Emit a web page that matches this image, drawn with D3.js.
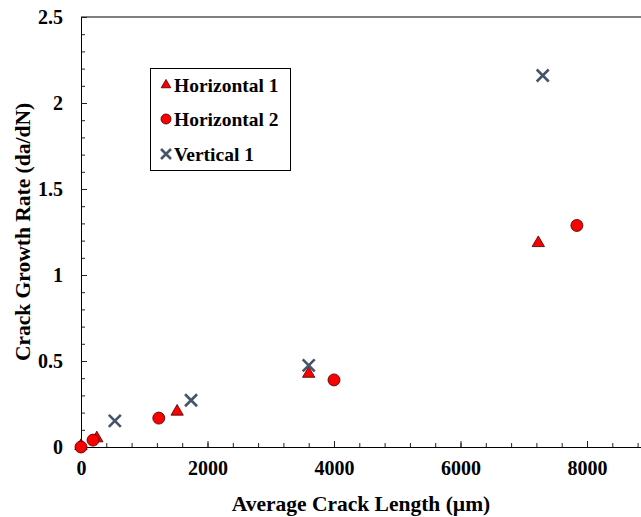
<!DOCTYPE html>
<html>
<head>
<meta charset="utf-8">
<script src="https://cdn.jsdelivr.net/npm/d3@7"></script>
<style>
  html, body { margin: 0; padding: 0; background: #fff; }
  svg text { font-family: "Liberation Serif", "Times New Roman", serif; font-weight: bold; }
</style>
</head>
<body>
<svg id="chart" width="641" height="517"></svg>
<script>
// Crack growth measurements: average crack length (µm) vs. rate (da/dN)
const horizontal1X = [0, 250, 1520, 3600, 7230];
const horizontal1Y = [0, 0.045, 0.2, 0.42, 1.18];
const horizontal2X = [0, 190, 1230, 4000, 7840];
const horizontal2Y = [0, 0.04, 0.168, 0.39, 1.288];
const vertical1X = [535, 1740, 3600, 7300];
const vertical1Y = [0.152, 0.272, 0.475, 2.16];

const xTicks = [0, 2000, 4000, 6000, 8000];
const yTicks = [0, 0.5, 1, 1.5, 2, 2.5];
const seriesNames = ["Horizontal 1", "Horizontal 2", "Vertical 1"];

const svg = d3.select("#chart");
const margin = { left: 81, top: 17, bottom: 447 };
const plotRight = 81 + 632.5; // x axis runs to 10000, past the right edge of the frame

const x = d3.scaleLinear().domain([0, 10000]).range([margin.left, plotRight]);
const y = d3.scaleLinear().domain([0, 2.5]).range([margin.bottom, margin.top]);

const red = "#ff0000";
const slate = "#44546a";
const labelFont = '"Liberation Serif", "Times New Roman", serif';

// frame: top border line
svg.append("line")
  .attr("x1", x(0)).attr("x2", plotRight)
  .attr("y1", y(2.5)).attr("y2", y(2.5))
  .attr("stroke", "#000").attr("stroke-width", 1);

// x axis: minor + major ticks pointing inward
svg.append("g").attr("transform", `translate(0,${margin.bottom})`)
  .call(d3.axisTop(x).tickValues(d3.range(0, 10001, 400)).tickSize(4).tickFormat(""))
  .call(g => g.select(".domain").remove());
svg.append("g").attr("transform", `translate(0,${margin.bottom})`)
  .call(d3.axisTop(x).tickValues(d3.range(0, 10001, 2000)).tickSize(6).tickSizeOuter(0).tickFormat(""));
svg.append("g").attr("transform", `translate(0,${margin.bottom})`)
  .call(d3.axisBottom(x).tickValues(xTicks).tickSize(0).tickSizeOuter(0).tickPadding(14)
    .tickFormat(d3.format("d")))
  .call(g => g.select(".domain").remove())
  .call(g => g.selectAll("text").attr("font-size", 20).attr("fill", "#000")
    .style("font-family", labelFont).style("font-weight", "bold"));

// y axis
svg.append("g").attr("transform", `translate(${margin.left},0)`)
  .call(d3.axisRight(y).tickValues(d3.range(0, 25.01, 1).map(v => v / 10)).tickSize(4).tickFormat(""))
  .call(g => g.select(".domain").remove());
svg.append("g").attr("transform", `translate(${margin.left},0)`)
  .call(d3.axisRight(y).tickValues(yTicks).tickSize(6).tickSizeOuter(0).tickFormat(""));
svg.append("g").attr("transform", `translate(${margin.left},0)`)
  .call(d3.axisLeft(y).tickValues(yTicks).tickSize(0).tickSizeOuter(0).tickPadding(18)
    .tickFormat(d3.format("~g")))
  .call(g => g.select(".domain").remove())
  .call(g => g.selectAll("text").attr("font-size", 20).attr("fill", "#000")
    .style("font-family", labelFont).style("font-weight", "bold"));

svg.selectAll(".domain").attr("stroke", "#000");
svg.selectAll(".tick line").attr("stroke", "#222");

// axis titles
svg.append("text")
  .attr("x", 361).attr("y", 511)
  .attr("text-anchor", "middle").attr("font-size", 21.5)
  .text("Average Crack Length (µm)");
svg.append("text")
  .attr("transform", "translate(30,232) rotate(-90)")
  .attr("text-anchor", "middle").attr("font-size", 21.5)
  .text("Crack Growth Rate (da/dN)");

// markers
const triPath = d3.symbol().type(d3.symbolTriangle).size(66)();
const circleR = 6;

const pts = svg.append("g");

function drawX(g, cx, cy, h) {
  g.append("path")
    .attr("d", `M${cx - h},${cy - h}L${cx + h},${cy + h}M${cx - h},${cy + h}L${cx + h},${cy - h}`)
    .attr("stroke", slate).attr("stroke-width", 2.6).attr("fill", "none");
}

// Horizontal 1 (triangles)
pts.selectAll("path.h1")
  .data(d3.zip(horizontal1X, horizontal1Y))
  .join("path").attr("class", "h1")
  .attr("d", triPath)
  .attr("transform", d => `translate(${x(d[0])},${y(d[1]) - 1})`)
  .attr("fill", red).attr("stroke", "#3a0000").attr("stroke-width", 0.8);

// Horizontal 2 (circles)
pts.selectAll("circle.h2")
  .data(d3.zip(horizontal2X, horizontal2Y))
  .join("circle").attr("class", "h2")
  .attr("cx", d => x(d[0])).attr("cy", d => y(d[1]))
  .attr("r", circleR)
  .attr("fill", red).attr("stroke", "#3a0000").attr("stroke-width", 0.8);

// Vertical 1 (crosses)
d3.zip(vertical1X, vertical1Y).forEach(d => drawX(pts, x(d[0]), y(d[1]), 6));

// legend
const lg = svg.append("g");
lg.append("rect")
  .attr("x", 150.5).attr("y", 68.5).attr("width", 140).attr("height", 102)
  .attr("fill", "#fff").attr("stroke", "#000").attr("stroke-width", 1);
const rowY = [85, 119, 154];
lg.append("path").attr("d", d3.symbol().type(d3.symbolTriangle).size(40)())
  .attr("transform", `translate(166,${rowY[0]})`)
  .attr("fill", red).attr("stroke", "#3a0000").attr("stroke-width", 0.8);
lg.append("circle").attr("cx", 166).attr("cy", rowY[1]).attr("r", 5)
  .attr("fill", red).attr("stroke", "#3a0000").attr("stroke-width", 0.8);
drawX(lg, 166, rowY[2], 5);
lg.selectAll("text.lbl")
  .data(seriesNames)
  .join("text").attr("class", "lbl")
  .attr("x", 174).attr("y", (d, i) => rowY[i] + 6.5)
  .attr("font-size", 19.5)
  .text(d => d);
</script>
</body>
</html>
